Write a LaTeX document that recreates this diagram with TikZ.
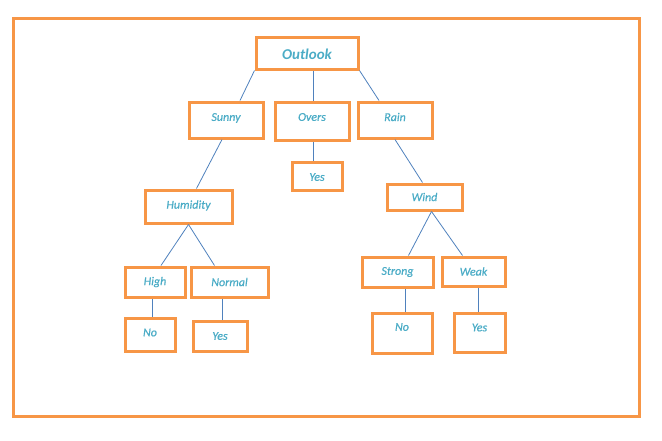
\documentclass[tikz,border=0pt]{standalone}
\usepackage{fontspec}
\setmainfont{Carlito}
\newfontface\lblfont{Carlito Italic}[FakeBold=0.6]
\usepackage{tikz}
\usetikzlibrary{positioning}
\definecolor{boxorange}{HTML}{F79646}
\definecolor{txtblue}{HTML}{4BACC6}
\definecolor{edgeblue}{HTML}{4F81BD}
\tikzset{box/.style={draw=boxorange, line width=3pt, rectangle, inner sep=0pt}}
\tikzset{txt/.style={text=txtblue, font=\fontsize{12}{14}\lblfont, inner sep=0pt}}
\tikzset{edge/.style={draw=edgeblue, line width=0.8pt}}
\begin{document}
\begin{tikzpicture}[x=1pt,y=-1pt]
\useasboundingbox (0,0) rectangle (662,440);
\draw[boxorange, line width=3pt] (13,18) rectangle (639,416);
\node[box, minimum width=102, minimum height=32, label={[txt,font=\fontsize{15}{17}\selectfont\bfseries\itshape,yshift=-1]center:Outlook}] (outlook) at (307,53) {};
\node[box, minimum width=74, minimum height=36, label={[txt,yshift=2]center:Sunny}] (sunny) at (226,120) {};
\node[box, minimum width=74, minimum height=38, label={[txt,yshift=4]center:Overs}] (overs) at (312,121) {};
\node[box, minimum width=74, minimum height=36, label={[txt,yshift=3]center:Rain}] (rain) at (395,120) {};
\node[box, minimum width=50, minimum height=28, label={[txt,yshift=-1]center:Yes}] (yes1) at (317,176) {};
\node[box, minimum width=87, minimum height=33, label={[txt,yshift=1]center:Humidity}] (humidity) at (188.5,206.5) {};
\node[box, minimum width=60, minimum height=30, label={[txt]center:High}] (high) at (155,282) {};
\node[box, minimum width=77, minimum height=30, label={[txt]center:Normal}] (normal) at (229.5,282) {};
\node[box, minimum width=50, minimum height=33, label={[txt,yshift=2]center:No}] (no1) at (150,334.5) {};
\node[box, minimum width=54, minimum height=30, label={[txt]center:Yes}] (yes2) at (220,336) {};
\node[box, minimum width=75, minimum height=26, label={[txt]center:Wind}] (wind) at (424.5,197) {};
\node[box, minimum width=71, minimum height=30, label={[txt]center:Strong}] (strong) at (397.5,272) {};
\node[box, minimum width=63, minimum height=29, label={[txt]center:Weak}] (weak) at (473.5,271.5) {};
\node[box, minimum width=60, minimum height=40, label={[txt,yshift=6]center:No}] (no2) at (402,333) {};
\node[box, minimum width=51, minimum height=39, label={[txt,yshift=5]center:Yes}] (yes3) at (479.5,332.5) {};
\draw[edge] (outlook.south west) -- ([xshift=14]sunny.north);
\draw[edge] ([xshift=1]overs.north) -- ([xshift=1]overs.north |- outlook.south);
\draw[edge] (outlook.south east) -- ([xshift=-16]rain.north);
\draw[edge] ([xshift=-4]sunny.south) -- ([xshift=8]humidity.north);
\draw[edge] ([xshift=-4]yes1.north) -- ([xshift=-4]yes1.north |- overs.south);
\draw[edge] (rain.south) -- ([xshift=-2]wind.north);
\draw[edge] (humidity.south) -- ([xshift=6]high.north);
\draw[edge] (humidity.south) -- ([xshift=-15]normal.north);
\draw[edge] ([xshift=2]no1.north) -- ([xshift=2]no1.north |- high.south);
\draw[edge] ([xshift=2]yes2.north) -- ([xshift=2]yes2.north |- normal.south);
\draw[edge] ([xshift=7]wind.south) -- ([xshift=11]strong.north);
\draw[edge] ([xshift=7]wind.south) -- ([xshift=-11]weak.north);
\draw[edge] ([xshift=3]no2.north) -- ([xshift=3]no2.north |- strong.south);
\draw[edge] ([xshift=-1]yes3.north) -- ([xshift=-1]yes3.north |- weak.south);
\end{tikzpicture}
\end{document}
